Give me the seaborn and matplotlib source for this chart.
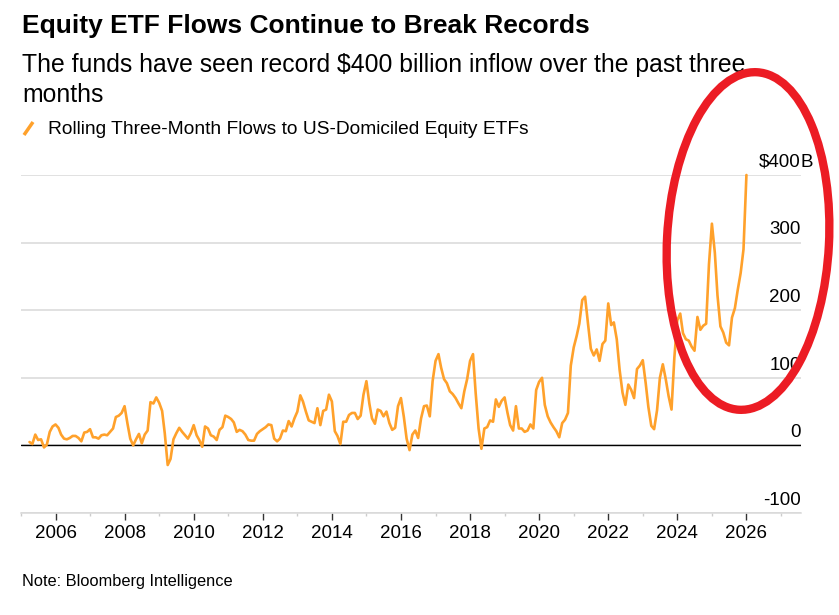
import matplotlib
matplotlib.use("Agg")
import matplotlib.pyplot as plt
import matplotlib.dates as mdates
import pandas as pd
import seaborn as sns
from matplotlib.lines import Line2D
from matplotlib.patches import Ellipse
from matplotlib.transforms import IdentityTransform

# Rolling three-month flows, US-domiciled equity ETFs ($bn), monthly from Apr 2005
START_MONTH = "2005-04-01"
FLOWS_BN = [
    5, 2, 16, 8, 9, -3, 1, 20, 28,
    31, 26, 16, 10, 9, 11, 14, 14, 11, 6, 19, 20,
    24, 12, 12, 10, 15, 16, 15, 20, 25, 42, 44, 48,
    58, 32, 10, 0, 9, 17, 3, 16, 22, 64, 62, 71,
    63, 51, 18, -29, -20, 9, 18, 26, 20, 15, 10, 18,
    30, 15, 8, -2, 28, 25, 15, 13, 8, 23, 27, 44,
    42, 39, 34, 20, 23, 21, 16, 8, 7, 7, 17, 21,
    24, 27, 31, 30, 10, 6, 10, 22, 21, 36, 28, 40,
    50, 74, 65, 50, 37, 35, 33, 55, 30, 51, 53, 75,
    65, 21, 14, 2, 35, 35, 45, 48, 48, 39, 44, 75,
    95, 62, 40, 32, 53, 51, 43, 50, 33, 23, 26, 58,
    70, 42, 10, -7, 16, 22, 11, 40, 58, 59, 43, 95,
    125, 135, 115, 98, 92, 80, 76, 70, 62, 55, 80, 98,
    125, 135, 78, 25, -5, 25, 27, 37, 35, 68, 57, 66,
    71, 48, 30, 22, 58, 25, 25, 20, 22, 31, 25, 82,
    94, 100, 60, 43, 34, 27, 21, 12, 33, 38, 48, 118,
    145, 162, 180, 215, 220, 180, 143, 133, 142, 125, 150, 155,
    210, 178, 182, 157, 112, 78, 60, 90, 82, 70, 113, 118,
    126, 92, 57, 29, 24, 52, 100, 120, 98, 73, 53, 130,
    185, 195, 166, 157, 155, 146, 140, 190, 171, 177, 180, 268,
    328, 285, 222, 176, 167, 152, 148, 189, 203, 230, 255, 290,
    400,
]

Y_TICKS = [-100, 0, 100, 200, 300, 400]
Y_LABELS = ["-100", "0", "100", "200", "300", "$400"]

TITLE = "Equity ETF Flows Continue to Break Records"
SUBTITLE = ["The funds have seen record $400 billion inflow over the past three", "months"]
LEGEND_LABEL = "Rolling Three-Month Flows to US-Domiciled Equity ETFs"
NOTE = "Note: Bloomberg Intelligence"

ORANGE = "#FFA12B"
W, H = 839, 615

sns.set_theme(style="white")
plt.rcParams["font.family"] = ["Liberation Sans", "DejaVu Sans"]
plt.rcParams["text.color"] = "black"

df = pd.DataFrame({
    "date": pd.date_range(START_MONTH, periods=len(FLOWS_BN), freq="MS"),
    "flows": FLOWS_BN,
})

fig = plt.figure(figsize=(W / 100, H / 100), dpi=100)
ax = fig.add_axes([21 / W, (H - 513) / H, (801 - 21) / W, (513 - 175) / H])

sns.lineplot(data=df, x="date", y="flows", ax=ax, color=ORANGE, linewidth=1.9, clip_on=False, zorder=4)

ax.set_ylim(-100, 400)
ax.set_xlim(pd.Timestamp("2005-01-01"), pd.Timestamp("2027-08-01"))
ax.set_yticks(Y_TICKS)
ax.set_yticklabels([])
ax.tick_params(axis="y", length=0)
ax.grid(axis="y", color="#d9d9d9", linewidth=1.1)
ax.grid(axis="x", visible=False)
ax.axhline(0, color="black", linewidth=1.0, zorder=3)
ax.set_xlabel("")
ax.set_ylabel("")

for side in ("top", "left", "right"):
    ax.spines[side].set_visible(False)
ax.spines["bottom"].set_color("#d9d9d9")
ax.spines["bottom"].set_linewidth(1.1)

ax.xaxis.set_major_locator(mdates.YearLocator(2))
ax.xaxis.set_minor_locator(mdates.YearLocator(1))
ax.xaxis.set_major_formatter(mdates.DateFormatter("%Y"))
ax.tick_params(axis="x", which="major", direction="out", length=5, width=1, color="#333333",
               labelsize=13.5, labelcolor="black", pad=4, bottom=True)
ax.tick_params(axis="x", which="minor", direction="out", length=2.5, width=1, color="#cccccc", bottom=True)

ytrans = ax.get_yaxis_transform()
for v, lab in zip(Y_TICKS, Y_LABELS):
    ax.text(1.0, v + 12, lab, transform=ytrans, ha="right", va="baseline", fontsize=13.5, color="black")
ax.text(1.0, 412, "B", transform=ytrans, ha="left", va="baseline", fontsize=13.5, color="black")

fig.text(22 / W, 1 - 33 / H, TITLE, fontsize=19, fontweight="bold", ha="left", va="baseline")
fig.text(22 / W, 1 - 72 / H, SUBTITLE[0], fontsize=17.8, ha="left", va="baseline")
fig.text(22 / W, 1 - 102 / H, SUBTITLE[1], fontsize=17.8, ha="left", va="baseline")
fig.text(48 / W, 1 - 134 / H, LEGEND_LABEL, fontsize=13.8, ha="left", va="baseline")
fig.add_artist(Line2D([24 / W, 33 / W], [1 - 135 / H, 1 - 122 / H], transform=fig.transFigure,
                      color=ORANGE, linewidth=2.5, solid_capstyle="butt"))
fig.text(22 / W, 1 - 586 / H, NOTE, fontsize=11.8, ha="left", va="baseline")

# red hand-drawn style highlight ellipse around the recent surge
fig.add_artist(Ellipse((748, H - 241), 162, 338, angle=-3, transform=IdentityTransform(),
                       fill=False, edgecolor="#EC1C24", linewidth=6, zorder=10))

fig.savefig("out.png", dpi=100)
